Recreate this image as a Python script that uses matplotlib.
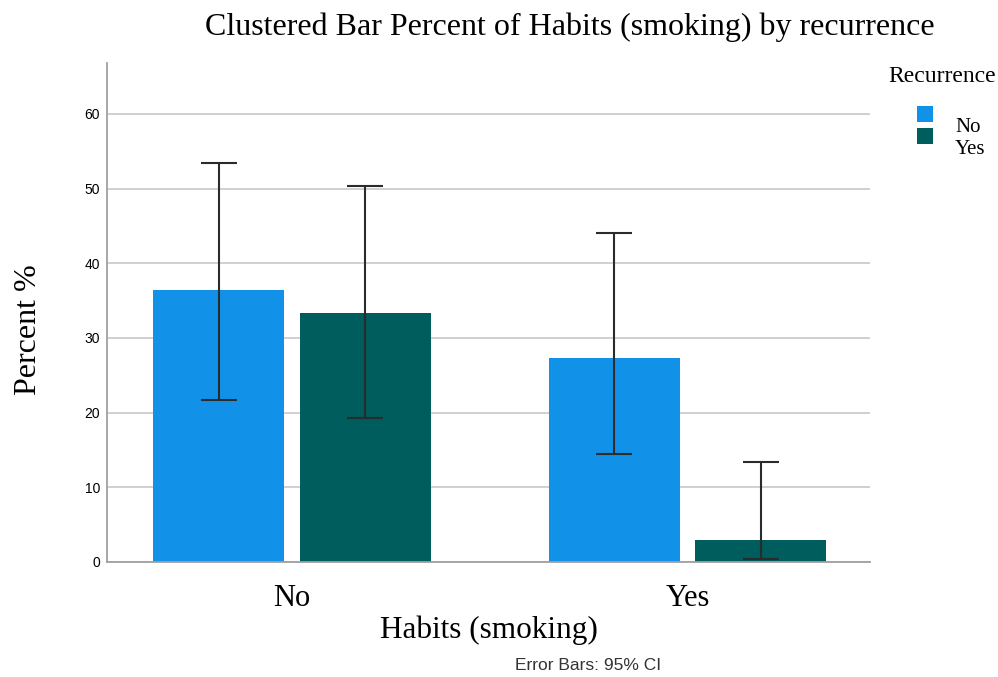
import numpy as np
import matplotlib.pyplot as plt
from matplotlib.patches import Rectangle

# percent of cases in each habit group, split by recurrence
habits = ['No', 'Yes']
recurrence = ['No', 'Yes']
pct_no = [36.4, 27.3]
pct_yes = [33.3, 3.0]
ci_low_no = [21.7, 14.5]
ci_high_no = [53.4, 44.1]
ci_low_yes = [19.3, 0.4]
ci_high_yes = [50.4, 13.4]

colors = ['#1192e8', '#005d5d']
serif = 'Liberation Serif'
sans = 'Liberation Sans'

W, H = 998, 677
fig = plt.figure(figsize=(W / 100, H / 100), dpi=100)
ax = fig.add_axes([0.1072, 0.1699, 0.7645, 0.737])

x = np.arange(len(habits))
w = 0.331
off = 0.185

series = [
    (pct_no, ci_low_no, ci_high_no, -off, colors[0]),
    (pct_yes, ci_low_yes, ci_high_yes, off, colors[1]),
]
for vals, lo, hi, dx, c in series:
    vals = np.array(vals)
    err = [vals - np.array(lo), np.array(hi) - vals]
    ax.bar(x + dx, vals, width=w, color=c, zorder=2)
    ax.errorbar(x + dx, vals, yerr=err, fmt='none', ecolor='#2b2b2b',
                elinewidth=1.5, capsize=13, capthick=1.5, zorder=3)

ax.set_xlim(-0.468, 1.461)
ax.set_ylim(0, 66.8)
ax.set_yticks(range(0, 70, 10))
ax.set_xticks(x)
ax.set_xticklabels(habits, fontfamily=serif, fontsize=22)
for lab in ax.get_yticklabels():
    lab.set_fontfamily(sans)
    lab.set_fontsize(10)
ax.tick_params(axis='both', length=0)
ax.tick_params(axis='y', pad=5)
ax.tick_params(axis='x', pad=16)

ax.yaxis.grid(True, color='#c8c8c8', linewidth=1.2, zorder=0)
ax.set_axisbelow(True)
for s in ['top', 'right']:
    ax.spines[s].set_visible(False)
for s in ['left', 'bottom']:
    ax.spines[s].set_color('#a0a0a0')
    ax.spines[s].set_linewidth(1.3)

ax.set_xlabel('Habits (smoking)', fontfamily=serif, fontsize=22.5, labelpad=2)
fig.text(28 / W, 1 - 330 / H, 'Percent %', rotation=90, ha='center',
         va='center', fontfamily=serif, fontsize=23)
fig.text(570 / W, 1 - 27 / H,
         'Clustered Bar Percent of Habits (smoking) by recurrence',
         ha='center', va='center', fontfamily=serif, fontsize=23)
fig.text(588 / W, 1 - 665 / H, 'Error Bars: 95% CI', ha='center',
         va='center', fontfamily=sans, fontsize=12.5, color='#333333')

# legend drawn by hand
fig.text(888 / W, 1 - 77 / H, 'Recurrence', ha='left', va='center',
         fontfamily=serif, fontsize=17)
for i, (lab, c) in enumerate(zip(recurrence, colors)):
    top = 106 + i * 22
    fig.patches.append(Rectangle((917 / W, 1 - (top + 16) / H), 16 / W,
                                 16 / H, transform=fig.transFigure,
                                 facecolor=c, edgecolor='none'))
    fig.text(955 / W, 1 - (127 + i * 23) / H, lab, ha='left', va='center',
             fontfamily=serif, fontsize=15)

fig.savefig('out.png', dpi=100)
